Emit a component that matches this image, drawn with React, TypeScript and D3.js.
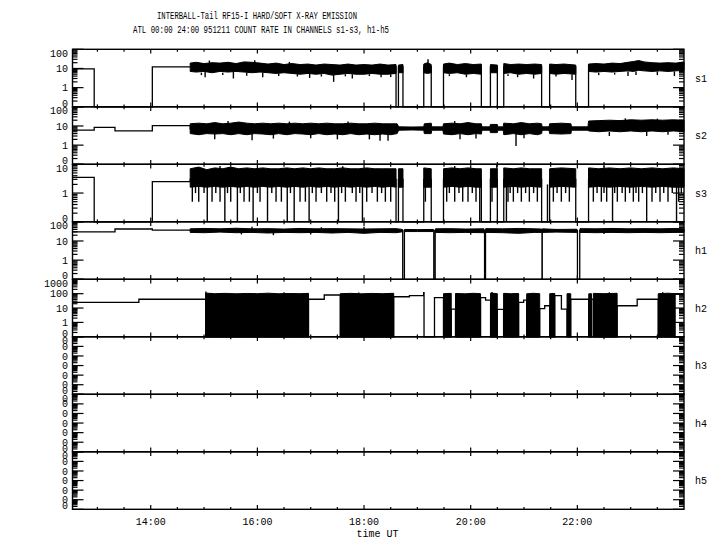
import React from "react";
import * as d3 from "d3";

type P2 = [number, number];
type P3 = [number, number, number];

// ---------- text ----------
const title1 = "INTERBALL-Tail RF15-I HARD/SOFT X-RAY EMISSION";
const title2 = "ATL 00:00 24:00 951211  COUNT RATE IN CHANNELS s1-s3, h1-h5";
const xTitle = "time UT";
const channels = ["s1", "s2", "s3", "h1", "h2", "h3", "h4", "h5"];
const xLabelHours = [14, 16, 18, 20, 22];
const xTickLabels = ["14:00", "16:00", "18:00", "20:00", "22:00"];
const timeDomain: P2 = [12.533, 24];

const yDomains: P2[] = [
  [0.1, 100], [0.1, 100], [0.1, 10], [0.1, 100], [0.1, 1000],
  [1e-6, 1], [1e-6, 1], [1e-6, 1],
];
const yLabels: string[][] = [
  ["100", "10", "1", "0"],
  ["100", "10", "1", "0"],
  ["10", "1", "0"],
  ["100", "10", "1", "0"],
  ["1000", "100", "10", "1", "0"],
  ["0", "0", "0", "0", "0", "0", "0"],
  ["0", "0", "0", "0", "0", "0", "0"],
  ["0", "0", "0", "0", "0", "0", "0"],
];

// ---------- s1 ----------
const s1Steps: P2[] = [
  [12.533, 9.5], [12.94, 0], [14.03, 12], [18.6, 0], [18.645, 12], [18.73, 0],
  [19.12, 12], [19.26, 0], [19.49, 12], [20.2, 0], [20.37, 12], [20.5, 0],
  [20.62, 12], [21.33, 0], [21.48, 12], [21.97, 0], [22.21, 14], [24, 14],
];
const s1Band: P3[] = [
  [14.74, 7, 19], [14.85, 6.5, 21], [15.0, 7, 18], [15.15, 6, 20], [15.3, 7, 19],
  [15.45, 6.5, 21], [15.6, 7, 18], [15.75, 6.5, 22], [15.9, 6, 21], [16.05, 6.5, 19],
  [16.2, 6, 17], [16.35, 5.5, 19], [16.5, 6, 16], [16.65, 5.5, 18], [16.8, 5, 16],
  [16.95, 5.5, 17], [17.1, 5, 15], [17.25, 5.5, 17], [17.4, 4.5, 16], [17.55, 5, 15],
  [17.7, 5.5, 17], [17.85, 5, 15], [18.0, 5, 16], [18.15, 5.5, 15], [18.3, 5, 17],
  [18.45, 5, 15], [18.6, 5.5, 16], [18.62, 0, 0],
  [18.645, 6, 15], [18.73, 6, 16], [18.9, 0, 0],
  [19.12, 6, 17], [19.19, 5.5, 20], [19.26, 6, 16], [19.4, 0, 0],
  [19.49, 6, 17], [19.6, 5.5, 19], [19.75, 6, 16], [19.9, 5, 18], [20.05, 5.5, 16], [20.2, 5, 17], [20.3, 0, 0],
  [20.37, 6, 16], [20.5, 6, 15], [20.55, 0, 0],
  [20.62, 5.5, 18], [20.75, 6, 16], [20.9, 5, 17], [21.05, 5.5, 16], [21.2, 5, 17], [21.33, 5.5, 16], [21.4, 0, 0],
  [21.48, 5.5, 17], [21.6, 5, 16], [21.75, 5.5, 17], [21.97, 5, 15], [22.1, 0, 0],
  [22.21, 7, 17], [22.35, 6.5, 18], [22.5, 7, 17], [22.65, 6.5, 19], [22.8, 7, 18],
  [22.95, 7.5, 21], [23.05, 7, 23], [23.15, 8, 26], [23.25, 7.5, 22], [23.4, 7, 20],
  [23.55, 7.5, 19], [23.7, 7, 20], [23.85, 7.5, 19], [24, 8, 22],
];
const s1Spikes: P3[] = [
  [15.02, 7, 3.5], [15.55, 7, 3], [16.1, 6, 3.5], [16.98, 5.5, 3.2], [17.43, 5, 2],
  [17.78, 5, 3], [18.32, 5, 3.5], [19.92, 5, 3.5], [20.88, 5, 3.5], [21.18, 5, 3],
  [21.9, 5, 2.5], [22.95, 7, 4], [23.1, 7, 4.5], [23.5, 7, 4.5], [23.82, 7, 4],
  [15.1, 18, 26], [15.95, 20, 27], [19.2, 18, 30], [16.6, 16, 22],
  [14.95, 6, 4.5], [15.35, 6, 4.5], [15.8, 6, 4.2], [16.4, 5.5, 4], [16.75, 5, 3.8],
  [17.2, 5, 3.8], [17.65, 5, 3.9], [18.1, 5, 4], [18.5, 5, 3.6], [19.6, 5, 4],
  [20.7, 5, 4], [21.6, 5, 3.8], [22.4, 6, 4.5], [22.7, 6, 4.8],
];

// ---------- s2 ----------
const s2Steps: P2[] = [
  [12.533, 6], [12.94, 8.5], [13.33, 5.5], [14.03, 10.5], [14.74, 7], [24, 7],
];
const s2Band: P3[] = [
  [14.74, 4, 13], [14.9, 3.5, 14], [15.05, 4, 13], [15.2, 3.8, 15], [15.35, 4, 13],
  [15.5, 3.5, 14], [15.65, 4, 16], [15.8, 3.5, 14], [15.95, 4, 13], [16.1, 3.8, 14],
  [16.25, 3.5, 13], [16.4, 4, 14], [16.55, 3.5, 13], [16.7, 4, 14], [16.85, 3.8, 13],
  [17.0, 3.5, 14], [17.15, 4, 13], [17.3, 3.5, 14], [17.45, 3.8, 13], [17.6, 3.5, 13],
  [17.75, 4, 14], [17.9, 3.5, 13], [18.05, 3.8, 13], [18.2, 3.5, 14], [18.35, 3.8, 13],
  [18.5, 3.5, 13], [18.62, 4, 13], [18.65, 6, 9], [18.9, 6.2, 8.8], [19.12, 6, 9],
  [19.13, 4, 13], [19.26, 4, 14], [19.27, 6, 9], [19.48, 6, 9], [19.49, 3.8, 13],
  [19.65, 3.5, 14], [19.8, 4, 13], [19.95, 3.5, 15], [20.1, 4, 13], [20.2, 3.8, 13],
  [20.21, 6, 9], [20.36, 6, 9], [20.37, 4.5, 12], [20.5, 4.5, 12], [20.51, 6, 9],
  [20.61, 6, 9], [20.62, 3.5, 14], [20.8, 4, 13], [20.95, 3.5, 15], [21.1, 4, 13],
  [21.25, 3.5, 14], [21.33, 4, 13], [21.34, 6, 9], [21.47, 6, 9], [21.48, 4, 13],
  [21.7, 3.8, 14], [21.88, 4, 13], [21.89, 6, 9], [22.2, 6, 9], [22.21, 5.5, 18],
  [22.4, 5, 19], [22.6, 5.5, 20], [22.8, 5, 19], [23.0, 5.5, 21], [23.2, 5, 20],
  [23.4, 5.5, 21], [23.6, 5, 20], [23.8, 5.5, 21], [24, 5, 20],
];
const s2Spikes: P3[] = [
  [15.2, 4, 2], [15.9, 4, 1.8], [16.3, 4, 2.2], [17.0, 4, 2.3], [17.5, 4, 2],
  [18.1, 4, 2], [18.3, 4, 1.7], [18.45, 4, 1.7], [19.8, 4, 2], [20.1, 4, 2.2],
  [20.85, 4, 0.9], [21.0, 4, 2.3], [22.6, 5, 3], [23.3, 5, 3], [23.7, 5, 3.5],
  [15.45, 12, 18], [16.6, 12, 17], [17.7, 12, 17], [19.7, 12, 18], [22.9, 18, 25], [23.5, 18, 24],
];

// ---------- s3 ----------
const s3Steps: P2[] = [
  [12.533, 3.5], [12.94, 0], [14.03, 2.5], [14.74, 3], [18.6, 0], [18.645, 3],
  [18.73, 0], [19.12, 3], [19.26, 0], [19.49, 3], [20.2, 0], [20.37, 3], [20.5, 0],
  [20.62, 3], [21.33, 0], [21.48, 3], [21.97, 0], [22.21, 3], [24, 3],
];
const s3Band: P3[] = [
  [14.74, 1.6, 7], [14.9, 1.7, 8], [15.05, 1.6, 6.5], [15.2, 1.7, 7.5], [15.35, 1.6, 7],
  [15.5, 1.7, 8], [15.65, 1.6, 7], [15.8, 1.7, 7.5], [15.95, 1.6, 7], [16.1, 1.7, 7.5],
  [16.25, 1.6, 7], [16.4, 1.7, 7], [16.55, 1.6, 7.5], [16.7, 1.7, 7], [16.85, 1.6, 7.5],
  [17.0, 1.7, 7], [17.15, 1.6, 7.5], [17.3, 1.7, 7], [17.45, 1.6, 7], [17.6, 1.7, 7.5],
  [17.75, 1.6, 7], [17.9, 1.7, 7], [18.05, 1.6, 7.5], [18.2, 1.7, 7], [18.35, 1.6, 7],
  [18.5, 1.7, 7], [18.6, 1.6, 7], [18.62, 0, 0],
  [18.645, 1.6, 7], [18.73, 1.6, 7], [18.9, 0, 0],
  [19.12, 1.6, 7.5], [19.26, 1.6, 7], [19.4, 0, 0],
  [19.49, 1.6, 7], [19.65, 1.7, 7.5], [19.8, 1.6, 7], [19.95, 1.7, 7.5], [20.1, 1.6, 7], [20.2, 1.6, 7], [20.3, 0, 0],
  [20.37, 1.6, 7], [20.5, 1.6, 7], [20.55, 0, 0],
  [20.62, 1.6, 7.5], [20.8, 1.7, 7], [20.95, 1.6, 7.5], [21.1, 1.7, 7], [21.33, 1.6, 7], [21.4, 0, 0],
  [21.48, 1.6, 7], [21.7, 1.7, 7.5], [21.97, 1.6, 7], [22.1, 0, 0],
  [22.21, 1.6, 7.5], [22.4, 1.7, 7], [22.6, 1.6, 7.5], [22.8, 1.7, 7], [23.0, 1.6, 7.5],
  [23.2, 1.7, 7], [23.4, 1.6, 7.5], [23.6, 1.7, 7], [23.8, 1.6, 7.5], [24, 1.6, 7],
];
const s3Spikes: P3[] = [
  // drops to zero
  [15.06, 2, 0], [15.39, 2, 0], [15.625, 2, 0], [15.92, 2, 0], [16.19, 2, 0],
  [16.56, 2, 0], [16.69, 2, 0], [16.97, 2, 0], [17.52, 2, 0], [17.97, 2, 0],
  [20.17, 2, 0], [20.67, 2, 0], [21.44, 2, 0], [22.66, 2, 0], [23.3, 2, 0], [23.86, 2, 0],
  // dips to ~0.5
  [14.78, 2, 0.5], [14.9, 2, 0.5], [15.15, 2, 0.5], [15.3, 2, 0.5], [15.5, 2, 0.5],
  [15.75, 2, 0.5], [15.85, 2, 0.5], [16.05, 2, 0.5], [16.35, 2, 0.5], [16.45, 2, 0.5],
  [16.8, 2, 0.5], [16.9, 2, 0.5], [17.1, 2, 0.5], [17.3, 2, 0.5], [17.45, 2, 0.5],
  [17.65, 2, 0.5], [17.85, 2, 0.5], [18.05, 2, 0.5], [18.25, 2, 0.5], [18.4, 2, 0.5],
  [18.5, 2, 0.5], [19.15, 2, 0.5], [19.55, 2, 0.5], [19.7, 2, 0.5], [19.85, 2, 0.5],
  [19.95, 2, 0.5], [20.1, 2, 0.5], [20.4, 2, 0.5], [20.7, 2, 0.5], [20.8, 2, 0.5],
  [20.95, 2, 0.5], [21.1, 2, 0.5], [21.25, 2, 0.5], [21.55, 2, 0.5], [21.7, 2, 0.5],
  [21.85, 2, 0.5], [22.3, 2, 0.5], [22.45, 2, 0.5], [22.55, 2, 0.5], [22.75, 2, 0.5],
  [22.9, 2, 0.5], [23.05, 2, 0.5], [23.15, 2, 0.5], [23.4, 2, 0.5], [23.55, 2, 0.5],
  [23.7, 2, 0.5], [23.9, 2, 0.5],
  // dips to ~1
  [14.84, 2, 1], [15.0, 2, 1], [15.22, 2, 1], [15.44, 2, 1], [15.68, 2, 1], [16.0, 2, 1],
  [16.27, 2, 1], [16.62, 2, 1], [17.03, 2, 1], [17.2, 2, 1], [17.38, 2, 1], [17.58, 2, 1],
  [17.78, 2, 1], [17.92, 2, 1], [18.15, 2, 1], [18.33, 2, 1], [19.6, 2, 1], [19.78, 2, 1],
  [20.03, 2, 1], [20.74, 2, 1], [20.88, 2, 1], [21.03, 2, 1], [21.18, 2, 1], [21.62, 2, 1],
  [21.78, 2, 1], [22.37, 2, 1], [22.5, 2, 1], [22.7, 2, 1], [22.84, 2, 1], [22.98, 2, 1],
  [23.1, 2, 1], [23.22, 2, 1], [23.47, 2, 1], [23.62, 2, 1], [23.78, 2, 1], [23.95, 2, 1],
  // upward spikes
  [20.49, 7, 9.5], [15.3, 7, 8.8], [17.6, 7, 8.6], [19.7, 7, 8.7], [22.5, 7, 8.8],
];

// ---------- h1 ----------
const h1Steps: P2[] = [
  [12.533, 30], [13.33, 42], [14.03, 37], [14.74, 36], [18.725, 0], [18.757, 36],
  [19.308, 0], [19.334, 36], [20.26, 0], [20.278, 36], [21.337, 0], [21.342, 36],
  [22.002, 0], [22.045, 36], [24, 36],
];
const h1Band: P3[] = [
  [14.74, 28, 43], [15.0, 27, 45], [15.3, 29, 43], [15.6, 27, 46], [15.9, 28, 43],
  [16.2, 26, 44], [16.5, 28, 42], [16.8, 27, 45], [17.1, 28, 43], [17.4, 26, 44],
  [17.7, 28, 43], [18.0, 25, 42], [18.3, 28, 43], [18.6, 27, 44], [18.72, 30, 40], [18.74, 0, 0],
  [18.76, 31, 40], [19.0, 31, 39], [19.3, 31, 40], [19.32, 0, 0],
  [19.34, 28, 43], [19.6, 27, 44], [19.9, 28, 42], [20.25, 27, 43], [20.27, 0, 0],
  [20.28, 28, 44], [20.6, 27, 43], [20.9, 25, 45], [21.2, 28, 43], [21.33, 28, 42], [21.34, 0, 0],
  [21.345, 28, 43], [21.6, 29, 40], [21.99, 28, 41], [22.02, 0, 0],
  [22.05, 28, 44], [22.35, 27, 43], [22.65, 28, 45], [22.95, 27, 43], [23.25, 28, 44],
  [23.55, 27, 43], [23.85, 28, 45], [24, 28, 43],
];
const h1Spikes: P3[] = [
  [15.7, 30, 22], [16.3, 30, 20], [17.0, 30, 22], [20.0, 30, 21], [22.5, 30, 23],
  [15.9, 40, 55], [17.2, 40, 52], [18.0, 40, 55],
];

// ---------- h2 ----------
const h2Steps: P2[] = [
  [12.533, 25], [13.778, 41], [15.031, 0], [16.959, 41], [17.254, 81], [17.555, 0],
  [18.556, 61], [18.851, 73], [19.118, 120], [19.125, 0], [19.321, 53], [19.49, 0],
  [19.635, 8.5], [19.715, 0], [20.185, 53], [20.279, 36], [20.373, 0], [20.499, 8.1],
  [20.617, 0], [20.899, 25], [20.993, 36], [21.05, 0], [21.294, 9], [21.388, 14.5],
  [21.482, 0], [21.576, 73], [21.701, 8.5], [21.807, 0], [21.876, 41], [22.214, 0],
  [22.265, 41], [22.3, 0], [22.746, 14.5], [23.122, 41], [23.517, 0], [23.83, 91], [24, 91],
];
const h2Band: P3[] = [
  [15.031, 0, 110], [15.2, 0, 100], [15.4, 0, 105], [15.6, 0, 98], [15.8, 0, 104],
  [16.0, 0, 100], [16.2, 0, 108], [16.4, 0, 99], [16.6, 0, 103], [16.8, 0, 100],
  [16.959, 0, 105], [17.2, 0, 0],
  [17.555, 0, 100], [17.75, 0, 105], [17.95, 0, 98], [18.15, 0, 104], [18.35, 0, 100], [18.556, 0, 106], [19, 0, 0],
  [19.49, 0, 100], [19.635, 0, 105], [19.68, 0, 0],
  [19.715, 0, 103], [19.9, 0, 98], [20.05, 0, 106], [20.185, 0, 100], [20.3, 0, 0],
  [20.373, 0, 110], [20.499, 0, 100], [20.55, 0, 0],
  [20.617, 0, 105], [20.75, 0, 100], [20.899, 0, 103], [20.95, 0, 0],
  [21.05, 0, 98], [21.17, 0, 106], [21.294, 0, 100], [21.4, 0, 0],
  [21.482, 0, 100], [21.576, 0, 104], [21.7, 0, 0],
  [21.807, 0, 100], [21.876, 0, 100], [22.0, 0, 0],
  [22.214, 0, 98], [22.265, 0, 100], [22.28, 0, 0],
  [22.3, 0, 105], [22.5, 0, 100], [22.746, 0, 106], [23.0, 0, 0],
  [23.517, 0, 100], [23.7, 0, 108], [23.83, 0, 100],
];
const h2Spikes: P3[] = [
  [15.035, 40, 140], [16.5, 100, 125], [17.9, 100, 120], [20.4, 100, 130], [22.6, 100, 125], [23.6, 100, 128],
];

const series: { steps: P2[]; band: P3[]; spikes: P3[] }[] = [
  { steps: s1Steps, band: s1Band, spikes: s1Spikes },
  { steps: s2Steps, band: s2Band, spikes: s2Spikes },
  { steps: s3Steps, band: s3Band, spikes: s3Spikes },
  { steps: h1Steps, band: h1Band, spikes: h1Spikes },
  { steps: h2Steps, band: h2Band, spikes: h2Spikes },
  { steps: [], band: [], spikes: [] },
  { steps: [], band: [], spikes: [] },
  { steps: [], band: [], spikes: [] },
];

// ---------- layout ----------
const W = 720, H = 550;
const LEFT = 72.5, RIGHT = 684, TOP = 49.3, PANEL_H = 57.5;
const FONT = "'Liberation Mono', 'DejaVu Sans Mono', monospace";

export default function App() {
  const x = d3.scaleLinear().domain(timeDomain).range([LEFT, RIGHT]);
  const minorHours = d3.range(13, 24, 0.5);
  const bottomAll = TOP + PANEL_H * channels.length;

  return (
    <svg width={W} height={H} style={{ position: "absolute", left: 0, top: 0, background: "#fff" }}
      fontFamily={FONT}>
      <rect x={0} y={0} width={W} height={H} fill="#fff" />
      <text x={157} y={19} fontSize={11} textLength={200} lengthAdjust="spacingAndGlyphs">{title1}</text>
      <text x={133} y={33} fontSize={11} textLength={256} lengthAdjust="spacingAndGlyphs">{title2}</text>

      {channels.map((name, i) => {
        const top = TOP + i * PANEL_H;
        const bottom = top + PANEL_H;
        const dom = yDomains[i];
        const y = d3.scaleLog().domain(dom).range([bottom, top]);
        const yv = (v: number) => (v <= dom[0] ? bottom : Math.max(top, y(v)));
        const s = series[i];
        const stepLine = d3.line<P2>().x(d => x(d[0])).y(d => yv(d[1])).curve(d3.curveStepAfter);
        const bandArea = d3.area<P3>()
          .defined(d => d[2] > 0)
          .x(d => x(d[0]))
          .y0(d => yv(d[1]))
          .y1(d => yv(d[2]))
          .curve(d3.curveLinear);
        const eLo = Math.round(Math.log10(dom[0]));
        const eHi = Math.round(Math.log10(dom[1]));
        const decades = d3.range(eLo, eHi + 1).map(e => Math.pow(10, e));
        const minors: number[] = [];
        decades.slice(0, -1).forEach(d => { for (let k = 2; k <= 9; k++) minors.push(d * k); });
        const labelVals = decades.slice().reverse();
        return (
          <g key={name}>
            {s.band.length > 0 && (
              <path d={bandArea(s.band) || ""} fill="#000" stroke="#000" strokeWidth={1} />
            )}
            {s.spikes.map((d, j) => (
              <line key={j} x1={x(d[0])} x2={x(d[0])} y1={yv(d[1])} y2={yv(d[2])}
                stroke="#000" strokeWidth={1.4} />
            ))}
            {s.steps.length > 0 && (
              <path d={stepLine(s.steps) || ""} fill="none" stroke="#000" strokeWidth={1.3} />
            )}
            <rect x={LEFT} y={top} width={RIGHT - LEFT} height={PANEL_H} fill="none"
              stroke="#000" strokeWidth={1.4} />
            {minorHours.map(h => {
              const major = h % 2 === 0;
              const len = major ? 4.2 : 2.4;
              return (
                <g key={h}>
                  <line x1={x(h)} x2={x(h)} y1={top} y2={top + len} stroke="#000" strokeWidth={1.2} />
                  <line x1={x(h)} x2={x(h)} y1={bottom} y2={bottom - len} stroke="#000" strokeWidth={1.2} />
                </g>
              );
            })}
            {decades.map(d => (
              <g key={"M" + d}>
                <line x1={LEFT} x2={LEFT + 11} y1={y(d)} y2={y(d)} stroke="#000" strokeWidth={1.2} />
                <line x1={RIGHT} x2={RIGHT - 11} y1={y(d)} y2={y(d)} stroke="#000" strokeWidth={1.2} />
              </g>
            ))}
            {minors.map(d => (
              <g key={"m" + d}>
                <line x1={LEFT} x2={LEFT + 5} y1={y(d)} y2={y(d)} stroke="#000" strokeWidth={1.2} />
                <line x1={RIGHT} x2={RIGHT - 5} y1={y(d)} y2={y(d)} stroke="#000" strokeWidth={1.2} />
              </g>
            ))}
            {labelVals.map((d, j) => {
              const ty = Math.min(bottom - 3.6, Math.max(top + 3.6, y(d)));
              return (
                <text key={"l" + j} x={68} y={ty} dy="0.36em" fontSize={10} textAnchor="end">
                  {yLabels[i][j]}
                </text>
              );
            })}
            <text x={695} y={(top + bottom) / 2} dy="0.36em" fontSize={10}>{name}</text>
          </g>
        );
      })}

      {xLabelHours.map((h, j) => (
        <text key={h} x={x(h)} y={bottomAll + 16} fontSize={10} textAnchor="middle">{xTickLabels[j]}</text>
      ))}
      <text x={377.5} y={bottomAll + 28} fontSize={10} textAnchor="middle">{xTitle}</text>
    </svg>
  );
}
